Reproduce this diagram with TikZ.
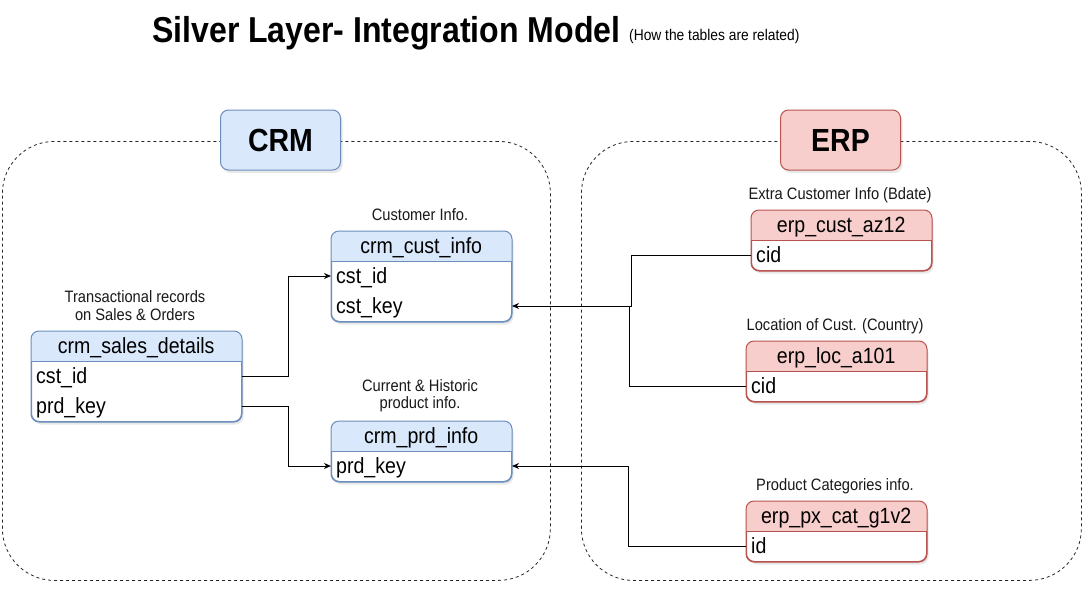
\documentclass[tikz,border=0pt]{standalone}
\usepackage{fontspec}
\setmainfont{Liberation Sans}[FakeStretch=0.89]
\usetikzlibrary{arrows.meta,shadows}
\definecolor{bluefill}{HTML}{DAE8FC}
\definecolor{bluedraw}{HTML}{6C8EBF}
\definecolor{redfill}{HTML}{F8CECC}
\definecolor{reddraw}{HTML}{B85450}
\tikzset{
  myshadow/.style={drop shadow={opacity=0.18,shadow xshift=2pt,shadow yshift=-3pt}},
  container/.style={draw=black!85, dash pattern=on 3pt off 3pt, rounded corners=52pt, line width=0.8pt, inner sep=0, anchor=north west},
  groupbox/.style={rounded corners=8pt, minimum width=120pt, minimum height=60pt, inner sep=0, font=\fontsize{32}{36}\selectfont\bfseries, line width=1pt, myshadow},
  tbl/.style={rounded corners=8pt, fill=white, line width=1pt, inner sep=0, anchor=north west, myshadow},
  hdrtext/.style={font=\fontsize{22}{24}\selectfont, minimum height=30pt, inner sep=0, anchor=north west, text height=18pt, text depth=2.6pt},
  rowtext/.style={font=\fontsize{22}{24}\selectfont, anchor=west, inner xsep=5pt, inner ysep=0, text height=18pt, text depth=2.6pt},
  note/.style={font=\fontsize{16.5}{17.5}\selectfont, align=center, inner sep=0, text=black!90},
  conn/.style={draw=black, line width=1pt},
  arr/.style={conn, -{Stealth[length=7pt,width=6pt]}}
}
\newcommand{\mytable}[8]{%
  \node[tbl, draw=#7, minimum width=#4, minimum height=#5] (#1) at (#2,#3) {};
  \begin{scope}
    \clip[rounded corners=8pt] (#1.north west) rectangle (#1.south east);
    \fill[#6] (#1.north west) rectangle ([yshift=-30pt]#1.north east);
  \end{scope}
  \draw[#7, line width=1pt, rounded corners=8pt] (#1.north west) rectangle (#1.south east);
  \draw[#7, line width=1pt] ([yshift=-30pt]#1.north west) -- ([yshift=-30pt]#1.north east);
  \node[hdrtext, minimum width=#4] (#1-h) at (#1.north west) {#8};
}
\begin{document}
\begin{tikzpicture}[x=1pt,y=-1pt]
\useasboundingbox (0,0) rectangle (1092,592);
\fill[white] (0,0) rectangle (1092,592);

% title
\node[anchor=base west, inner sep=0, font=\fontsize{36}{40}\selectfont\bfseries] (title) at (152,42) {Silver Layer- Integration Model};
\node[anchor=base west, inner sep=0, font=\fontsize{15.5}{17}\selectfont] (subtitle) at (629,40) {(How the tables are related)};

% containers
\node[container, minimum width=548pt, minimum height=439pt] (crmzone) at (2,141) {};
\node[container, minimum width=500pt, minimum height=439pt] (erpzone) at (581,141) {};

% group labels
\node[groupbox, fill=bluefill, draw=bluedraw] (crm) at (280.5,140) {CRM};
\node[groupbox, fill=redfill, draw=reddraw] (erp) at (840.5,140) {ERP};

% CRM tables
\mytable{sales}{31}{331}{210}{90}{bluefill}{bluedraw}{crm\_sales\_details}
\node[rowtext] (salescst) at ([yshift=-45pt]sales.north west) {cst\_id};
\node[rowtext] (salesprd) at ([yshift=-75pt]sales.north west) {prd\_key};

\mytable{cust}{331}{231}{180}{90}{bluefill}{bluedraw}{crm\_cust\_info}
\node[rowtext] (custid) at ([yshift=-45pt]cust.north west) {cst\_id};
\node[rowtext] (custkey) at ([yshift=-75pt]cust.north west) {cst\_key};

\mytable{prd}{331}{421}{180}{60}{bluefill}{bluedraw}{crm\_prd\_info}
\node[rowtext] (prdkey) at ([yshift=-45pt]prd.north west) {prd\_key};

% ERP tables
\mytable{az}{751}{210}{180}{60}{redfill}{reddraw}{erp\_cust\_az12}
\node[rowtext] (azcid) at ([yshift=-45pt]az.north west) {cid};

\mytable{loc}{746}{341}{180}{60}{redfill}{reddraw}{erp\_loc\_a101}
\node[rowtext] (loccid) at ([yshift=-45pt]loc.north west) {cid};

\mytable{px}{746}{501}{180}{60}{redfill}{reddraw}{erp\_px\_cat\_g1v2}
\node[rowtext] (pxid) at ([yshift=-45pt]px.north west) {id};

% notes
\node[note] (n1) at (420,215) {Customer Info.};
\node[note] (n2) at (135,305.5) {Transactional records\\on Sales \& Orders};
\node[note] (n3) at (420,395.5) {Current \& Historic\\product info.};
\node[note] (n4) at (840,195) {Extra Customer Info (Bdate)};
\node[note] (n5) at (835,326) {Location of Cust. (Country)};
\node[note] (n6) at (835,486) {Product Categories info.};

% connectors
\draw[arr] (sales.east |- salescst) -- ++(46,0) |- (custid.west);
\draw[arr] (sales.east |- salesprd) -- ++(46,0) |- (prdkey.west);
\draw[arr] (az.west |- azcid) -- ++(-120,0) |- (cust.east |- custkey);
\path (cust.east |- custkey) ++(117,0) coordinate (jn);
\draw[conn] (loc.west |- loccid) -| (jn);
\draw[arr] (px.west |- pxid) -- ++(-118,0) |- (prd.east |- prdkey);
\end{tikzpicture}
\end{document}
